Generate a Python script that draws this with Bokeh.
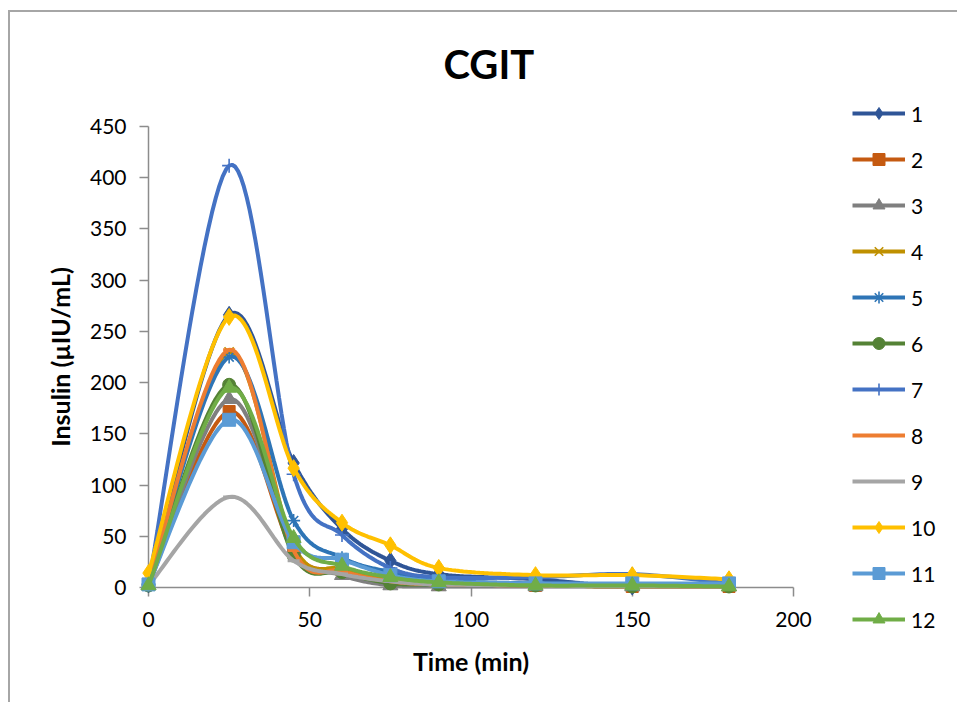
from bokeh.plotting import figure
from bokeh.models import Range1d, Legend, LegendItem, FixedTicker, InlineStyleSheet
from bokeh.embed import file_html
from bokeh.resources import INLINE

# ---- data ----
time = [0, 25, 45, 60, 75, 90, 120, 150, 180]
s1 = [3, 265, 121, 57, 26, 13, 8, 1, 4]
s2 = [3, 171, 35, 17, 6, 3, 2, 1, 1]
s3 = [2, 183, 37, 12, 2, 1, 1, 1, 1]
s4 = [3, 229, 40, 18, 7, 4, 2, 1, 1]
s5 = [3, 224, 65, 29, 15, 7, 4, 3, 2]
s6 = [2, 197, 31, 15, 4, 3, 2, 1, 1]
s7 = [3, 410, 110, 51, 19, 10, 10, 13, 4]
s8 = [3, 231, 36, 16, 6, 3, 2, 1, 1]
s9 = [2, 88, 26, 13, 6, 3, 2, 1, 1]
s10 = [14, 263, 116, 63, 41, 19, 12, 12, 8]
s11 = [3, 163, 44, 27, 12, 6, 4, 4, 4]
s12 = [2, 194, 48, 21, 10, 5, 2, 2, 1]
series_labels = ["1", "2", "3", "4", "5", "6", "7", "8", "9", "10", "11", "12"]
x_ticks = [0, 50, 100, 150, 200]
y_ticks = [0, 50, 100, 150, 200, 250, 300, 350, 400, 450]

series = [s1, s2, s3, s4, s5, s6, s7, s8, s9, s10, s11, s12]

# ---- styles / layout ----
colors = ["#2F5597", "#C55A11", "#7F7F7F", "#BF9000", "#2E75B6", "#548235",
          "#4472C4", "#ED7D31", "#A5A5A5", "#FFC000", "#5B9BD5", "#70AD47"]
markers = ["diamond", "square", "triangle", "x", "asterisk", "circle",
           "cross", "dash", "dash", "diamond", "square", "triangle"]
msizes = [17, 12, 15, 13, 13, 13, 14, 12, 12, 17, 13, 15]
LINE_W = 4
FONT = "Lato"
W, H = 957, 702
X_LO, X_HI, Y_LO, Y_HI = 0, 200, 0, 450
# pixel frame of the axes
FL, FR, FT, FB = 148, 793, 124, 587
# pixel frame of the data layer, a bit larger so edge markers are not cut
DL, DR, DT, DB = 128, 805, 100, 610


def smooth(xs, ys, n=24):
    """Excel-like smoothed line: cubic Bezier with Catmull-Rom control points."""
    pts = list(zip(xs, ys))
    ox, oy = [], []
    m = len(pts)
    for i in range(m - 1):
        p0 = pts[i - 1] if i > 0 else pts[i]
        p1 = pts[i]
        p2 = pts[i + 1]
        p3 = pts[i + 2] if i + 2 < m else pts[i + 1]
        c1 = (p1[0] + (p2[0] - p0[0]) / 6.0, p1[1] + (p2[1] - p0[1]) / 6.0)
        c2 = (p2[0] - (p3[0] - p1[0]) / 6.0, p2[1] - (p3[1] - p1[1]) / 6.0)
        for k in range(n + (1 if i == m - 2 else 0)):
            t = k / n
            a = (1 - t) ** 3
            b = 3 * (1 - t) ** 2 * t
            c = 3 * (1 - t) * t ** 2
            d = t ** 3
            ox.append(a * p1[0] + b * c1[0] + c * c2[0] + d * p2[0])
            oy.append(a * p1[1] + b * c1[1] + c * c2[1] + d * p2[1])
    return ox, oy


def draw_series(fig):
    out = []
    for ys, col, mk, sz in zip(series, colors, markers, msizes):
        sx, sy = smooth(time, ys)
        ln = fig.line(sx, sy, line_color=col, line_width=LINE_W)
        lw = 1.6 if mk in ("x", "asterisk", "cross") else (3 if mk == "dash" else 1)
        sc = fig.scatter(time, ys, marker=mk, size=sz, fill_color=col,
                         line_color=col, line_width=lw)
        out.append((ln, sc))
    return out


def overlay_css(extra=""):
    return InlineStyleSheet(css=":host { position: absolute !important; "
                                "top: 0px !important; " + extra + " }")


# ---------------- axes, title, labels (bottom layer) ----------------
p = figure(width=W - 112, height=H, output_backend="svg", toolbar_location=None,
           x_range=Range1d(X_LO, X_HI), y_range=Range1d(Y_LO, Y_HI),
           min_border_left=FL, min_border_right=W - 112 - FR,
           min_border_top=FT, min_border_bottom=H - FB)
p.background_fill_color = "white"
p.border_fill_color = "white"
p.outline_line_color = None
p.grid.visible = False

p.title.text = "CGIT"
p.title.align = "left"
p.title.offset = 295
p.title.vertical_align = "middle"
p.title.text_font = FONT
p.title.text_font_size = "40px"
p.title.text_font_style = "bold"
p.title.text_color = "black"
p.title.standoff = 76

for ax in (p.xaxis, p.yaxis):
    ax.axis_line_color = "#8C8C8C"
    ax.axis_line_width = 1.5
    ax.major_tick_line_color = "#8C8C8C"
    ax.major_tick_line_width = 1.5
    ax.major_tick_in = 0
    ax.major_tick_out = 9
    ax.minor_tick_in = 0
    ax.minor_tick_out = 0
    ax.major_label_text_font = FONT
    ax.major_label_text_font_size = "21px"
    ax.major_label_text_color = "black"
    ax.axis_label_text_font = FONT
    ax.axis_label_text_font_size = "25px"
    ax.axis_label_text_font_style = "bold"
    ax.axis_label_text_color = "black"

p.xaxis.ticker = FixedTicker(ticks=x_ticks)
p.yaxis.ticker = FixedTicker(ticks=y_ticks)
p.xaxis.axis_label = "Time (min)"
p.yaxis.axis_label = "Insulin (µIU/mL)"
p.xaxis.major_label_standoff = 15
p.yaxis.major_label_standoff = 13
p.xaxis.axis_label_standoff = 16
p.yaxis.axis_label_standoff = 12

p.stylesheets = [InlineStyleSheet(css="""
:host::after {
  content: ""; position: absolute;
  left: 8px; top: 10px; right: 0px; bottom: 0px;
  border-left: 2px solid #A6A6A6; border-top: 2px solid #A6A6A6;
  pointer-events: none;
}
""")]

# ---------------- data layer: same scales, slightly larger frame ----------------
kx = (X_HI - X_LO) / (FR - FL)
ky = (Y_HI - Y_LO) / (FB - FT)
pd_ = figure(width=W - 112, height=H, output_backend="svg", toolbar_location=None,
             x_range=Range1d(X_LO - (FL - DL) * kx, X_HI + (DR - FR) * kx),
             y_range=Range1d(Y_LO - (DB - FB) * ky, Y_HI + (FT - DT) * ky),
             x_axis_location=None, y_axis_location=None,
             min_border_left=DL, min_border_right=W - 112 - DR,
             min_border_top=DT, min_border_bottom=H - DB)
pd_.background_fill_color = None
pd_.border_fill_color = None
pd_.outline_line_color = None
pd_.grid.visible = False
draw_series(pd_)
pd_.stylesheets = [overlay_css("left: 0px !important;")]

# ---------------- legend panel ----------------
pl = figure(width=112, height=H, output_backend="svg", toolbar_location=None,
            x_range=Range1d(-1000, -999), y_range=Range1d(-1000, -999),
            x_axis_location=None, y_axis_location=None,
            min_border_left=0, min_border_right=0,
            min_border_top=0, min_border_bottom=0)
pl.outline_line_color = None
pl.grid.visible = False
pl.background_fill_color = "white"
pl.border_fill_color = "white"

leg_rs = draw_series(pl)
items = [LegendItem(label=lab, renderers=[ln, sc])
         for lab, (ln, sc) in zip(series_labels, leg_rs)]
legend = Legend(items=items, location=(7, 68), orientation="vertical",
                glyph_width=53, glyph_height=30, label_height=30, spacing=16,
                padding=0, margin=0, label_standoff=6,
                label_text_font=FONT, label_text_font_size="21px",
                label_text_color="black",
                border_line_color=None, background_fill_alpha=0)
pl.add_layout(legend)
pl.stylesheets = [overlay_css("left: %dpx !important;" % (W - 112)),
                  InlineStyleSheet(css="""
:host::after {
  content: ""; position: absolute;
  left: 0px; top: 10px; right: 0px; bottom: 0px;
  border-top: 2px solid #A6A6A6;
  pointer-events: none;
}
""")]

open("out.html", "w").write(file_html([p, pd_, pl], INLINE))
